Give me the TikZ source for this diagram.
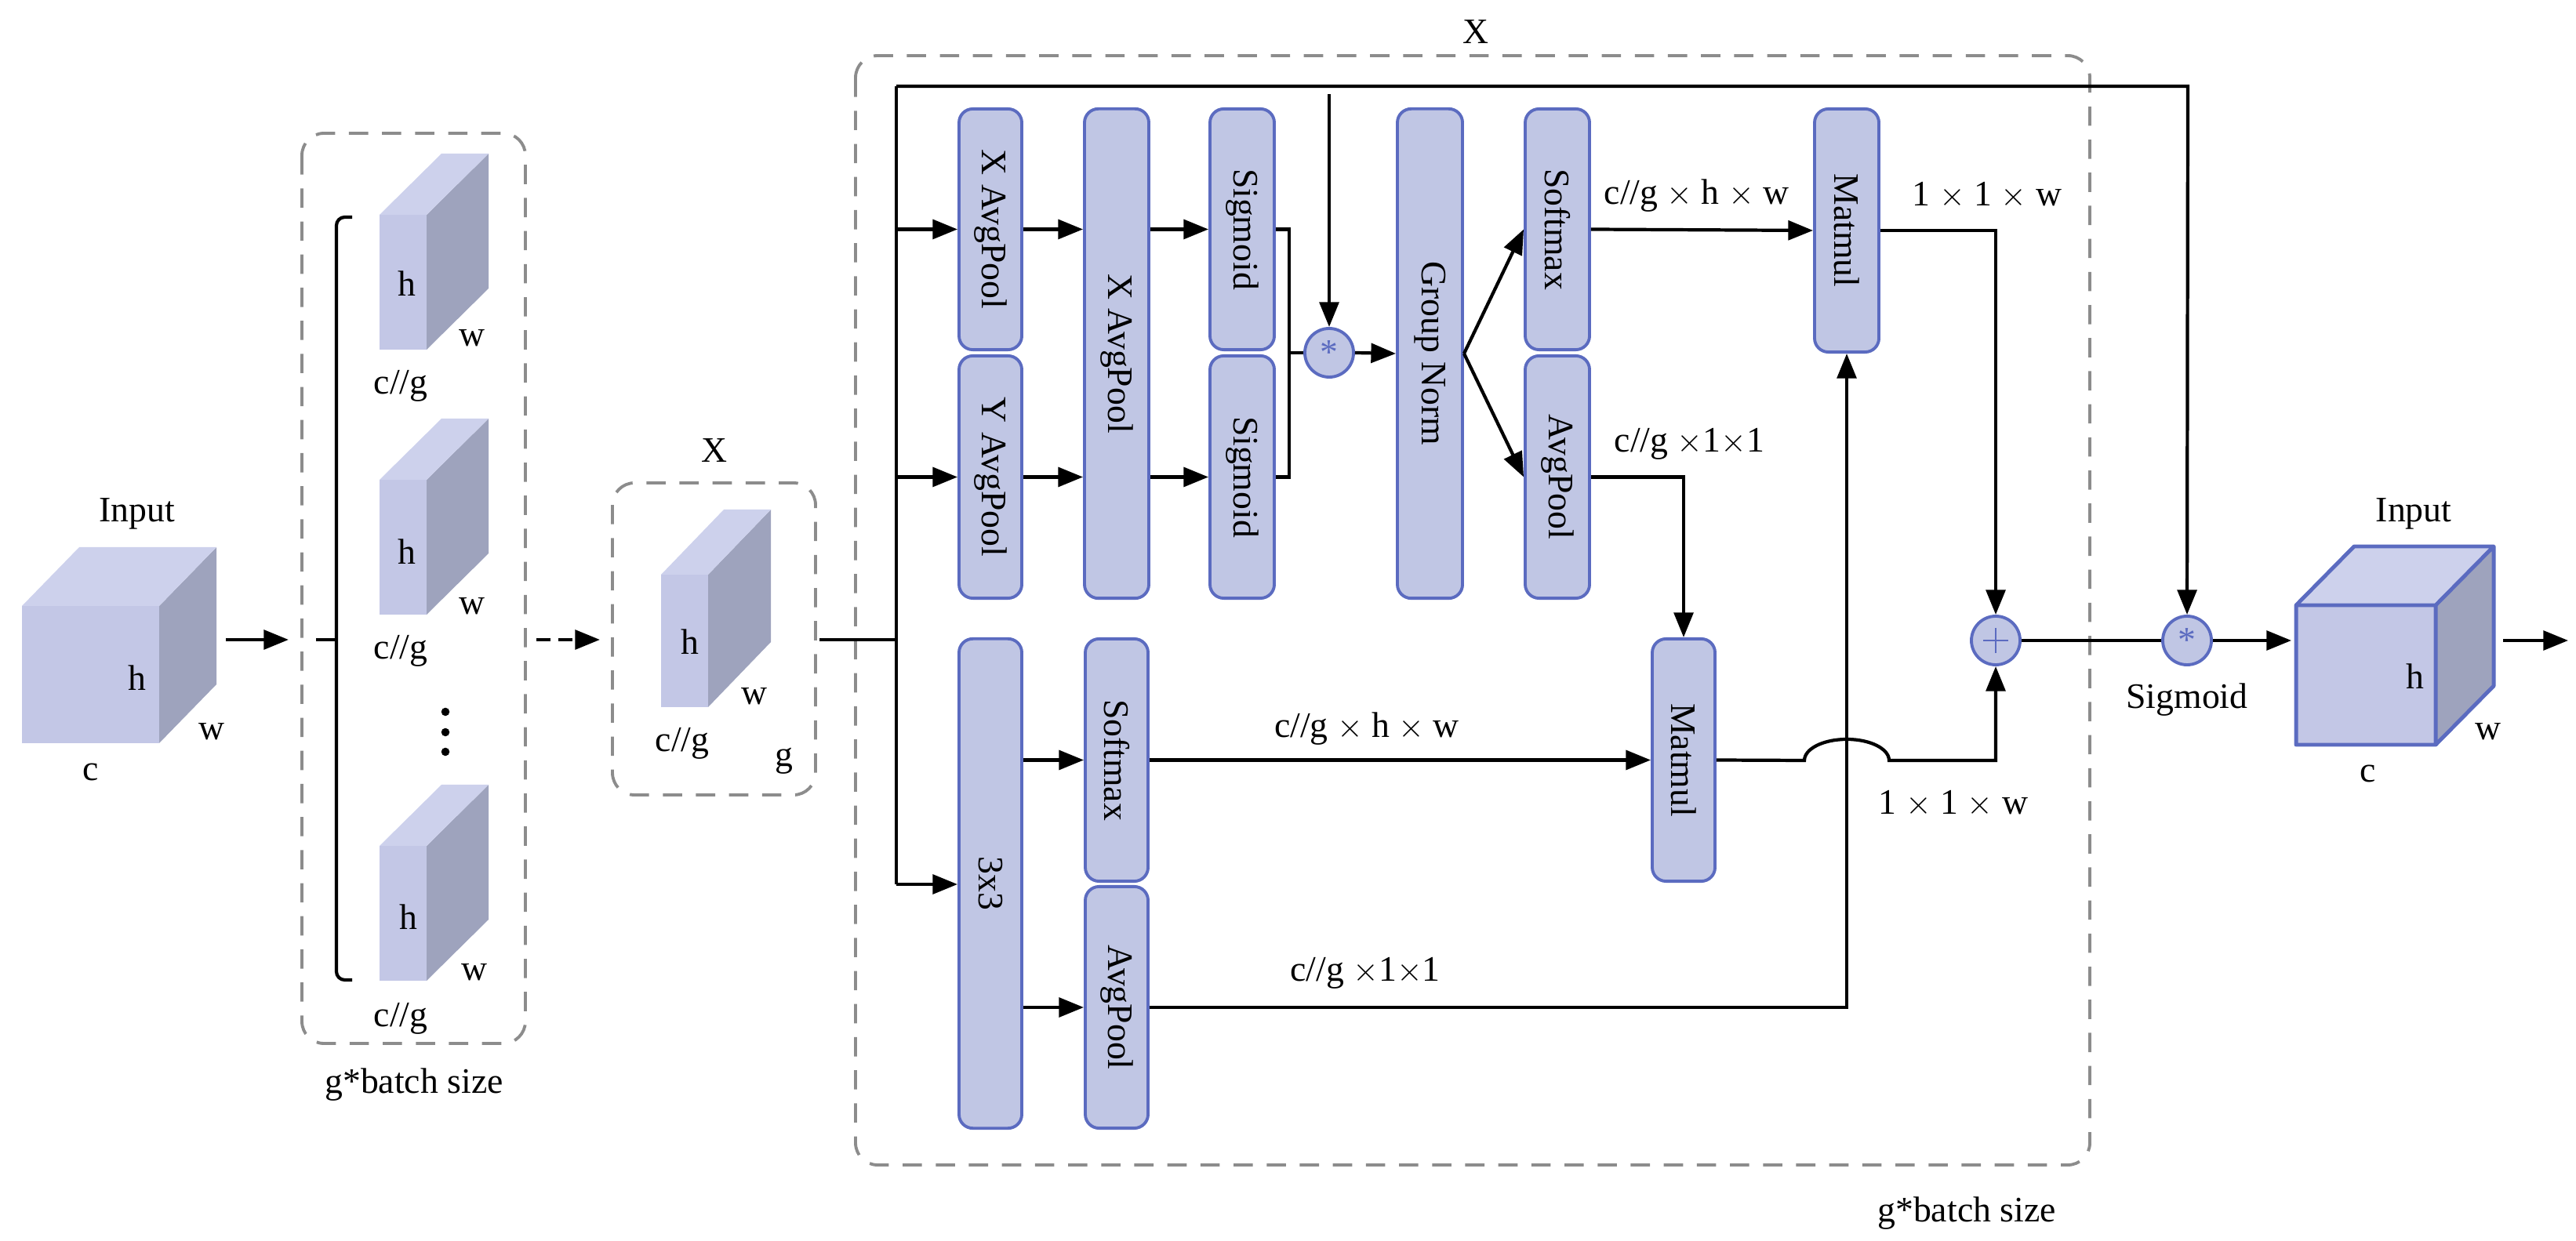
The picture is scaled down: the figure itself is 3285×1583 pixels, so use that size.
\documentclass[tikz,border=0pt]{standalone}
\usepackage{fontspec}
\setmainfont{Liberation Serif}
\usetikzlibrary{arrows.meta}
\definecolor{bfill}{HTML}{C0C6E4}
\definecolor{bdraw}{HTML}{5B6BC0}
\definecolor{cfront}{HTML}{C3C7E6}
\definecolor{ctop}{HTML}{CDD1EC}
\definecolor{cside}{HTML}{9EA3BD}
\definecolor{dgray}{HTML}{8C8C8C}
\begin{document}
\begin{tikzpicture}[x=0.01cm,y=-0.01cm,
  font=\fontsize{13}{15}\selectfont,
  blk/.style={draw=bdraw,fill=bfill,line width=1.1pt,rounded corners=5pt,inner sep=0pt},
  op/.style={circle,draw=bdraw,fill=bfill,line width=1.1pt,minimum size=0.62cm,inner sep=0pt},
  ln/.style={line width=1.2pt},
  ar/.style={line width=1.2pt,-{Triangle[length=9pt,width=7pt]}},
  dbox/.style={draw=dgray,line width=1.1pt,dash pattern=on 7pt off 5pt,rounded corners=8pt},
  txt/.style={inner sep=0pt}]
\useasboundingbox (0,0) rectangle (3285,1583);

\def\slab#1#2#3#4#5#6{%
  \fill[cside] (#1+#3,#2) -- (#1+#3+#5,#2+#6) -- (#1+#3+#5,#2+#4+#6) -- (#1+#3,#2+#4) -- cycle;
  \fill[ctop] (#1,#2) -- (#1+#5,#2+#6) -- (#1+#3+#5,#2+#6) -- (#1+#3,#2) -- cycle;
  \fill[cfront] (#1,#2) rectangle (#1+#3,#2+#4);}

% ---------- input cube ----------
\slab{28}{773}{175}{175}{73}{-75}
\node[txt] (inlab) at (175,655) {Input};
\node[txt] (inh) at (175,865) {h};
\node[txt] (inw) at (270,933) {w};
\node[txt] (inc) at (116,985) {c};
\coordinate (a1s) at (288,816);
\coordinate (a1e) at (368,816);
\draw[ar] (a1s) -- (a1e);

% ---------- group box ----------
\draw[dbox] (385,170) rectangle (670,1331);
\node[txt] (gb1) at (528,1384) {g*batch size};
\draw[ln,rounded corners=3pt] (449,277) -- (429,277) -- (429,1250) -- (449,1250);
\draw[ln] (429,816) -- (403,816);
\slab{484}{274}{60}{172}{79}{-78}
\node[txt] at (519,362) {h};
\node[txt] at (602,431) {w};
\node[txt] at (511,492) {c//g};
\slab{484}{612}{60}{172}{79}{-78}
\node[txt] at (519,704) {h};
\node[txt] at (602,773) {w};
\node[txt] at (511,830) {c//g};
\foreach \yy in {908,934,959} \fill (568,\yy) circle (1.5pt);
\slab{484}{1079}{60}{172}{79}{-78}
\node[txt] at (521,1170) {h};
\node[txt] at (605,1240) {w};
\node[txt] at (511,1299) {c//g};
\coordinate (a2s) at (684,816);
\coordinate (a2e) at (765,816);
\draw[ar,dash pattern=on 5pt off 3pt] (a2s) -- (a2e);

% ---------- X box ----------
\draw[dbox] (781,616) rectangle (1040,1014);
\node[txt] (xlab) at (911,575) {X};
\slab{843}{733}{60}{169}{80}{-83}
\node[txt] at (880,819) {h};
\node[txt] at (962,888) {w};
\node[txt] at (870,948) {c//g};
\node[txt] at (1000,971) {g};
\coordinate (xout) at (1045,816);

% ---------- big box ----------
\draw[dbox] (1091,71) rectangle (2665,1486);
\node[txt] (bigx) at (1882,41) {X};
\node[txt] (gb2) at (2508,1548) {g*batch size};

% ---------- blocks ----------
\node[blk,minimum width=0.8cm,minimum height=3.07cm] (xap1) at (1263,292.5) {\rotatebox{-90}{X AvgPool}};
\node[blk,minimum width=0.8cm,minimum height=3.09cm] (yap) at (1263,608.5) {\rotatebox{-90}{Y AvgPool}};
\node[blk,minimum width=0.82cm,minimum height=6.24cm] (xap2) at (1424,451) {\rotatebox{-90}{X AvgPool}};
\node[blk,minimum width=0.82cm,minimum height=3.07cm] (sig1) at (1584,292.5) {\rotatebox{-90}{Sigmoid}};
\node[blk,minimum width=0.82cm,minimum height=3.09cm] (sig2) at (1584,608.5) {\rotatebox{-90}{Sigmoid}};
\node[op] (mul1) at (1695,450) {\textcolor{bdraw}{*}};
\node[blk,minimum width=0.83cm,minimum height=6.24cm] (gn) at (1823.5,451) {\rotatebox{-90}{Group Norm}};
\node[blk,minimum width=0.82cm,minimum height=3.07cm] (smx) at (1986,292.5) {\rotatebox{-90}{Softmax}};
\node[blk,minimum width=0.82cm,minimum height=3.09cm] (ap2) at (1986,608.5) {\rotatebox{-90}{AvgPool}};
\node[blk,minimum width=0.82cm,minimum height=3.10cm] (mm1) at (2355,294) {\rotatebox{-90}{Matmul}};
\node[blk,minimum width=0.8cm,minimum height=6.24cm] (c33) at (1263,1127) {\rotatebox{-90}{3x3}};
\node[blk,minimum width=0.8cm,minimum height=3.09cm] (smx2) at (1424,969.5) {\rotatebox{-90}{Softmax}};
\node[blk,minimum width=0.8cm,minimum height=3.08cm] (ap3) at (1424,1285) {\rotatebox{-90}{AvgPool}};
\node[blk,minimum width=0.8cm,minimum height=3.09cm] (mm2) at (2147,969.5) {\rotatebox{-90}{Matmul}};
\node[op] (plus) at (2545,817) {};
\draw[bdraw,line width=0.6pt] ([xshift=-0.16cm]plus.center) -- ([xshift=0.16cm]plus.center)
  ([yshift=-0.16cm]plus.center) -- ([yshift=0.16cm]plus.center);
\node[op] (mul2) at (2789,817) {\textcolor{bdraw}{*}};
\node[txt] (siglab) at (2789,893) {Sigmoid};

% ---------- connectors ----------
\coordinate (tr) at (1143,816);
\coordinate (trtop) at (1143,110);
\coordinate (trbot) at (1143,1128);
\coordinate (tre) at (2790,110);
\draw[ln] (xout) -- (tr);
\draw[ln] (trtop) -- (trbot);
\draw[ar] (trtop) -- (tre) -- (mul2.north);
\draw[ar] (trtop |- xap1.west) -- (xap1.west);
\draw[ar] (trtop |- yap.west) -- (yap.west);
\draw[ar] (trbot) -- (trbot -| c33.west);
\draw[ar] (xap1.east) -- (xap1.east -| xap2.west);
\draw[ar] (yap.east) -- (yap.east -| xap2.west);
\draw[ar] (xap1.east -| xap2.east) -- (sig1.west);
\draw[ar] (yap.east -| xap2.east) -- (sig2.west);
\coordinate (jn) at (1644,450);
\draw[ln] (sig1.east) -| (jn);
\draw[ln] (sig2.east) -| (jn);
\draw[ln] (jn) -- (mul1.west);
\coordinate (mtop) at (1695,120);
\draw[ar] (mtop) -- (mul1.north);
\draw[ar] (mul1.east) -- (gn.west);
\draw[ar] (gn.east) -- (smx.west);
\draw[ar] (gn.east) -- (ap2.west);
\draw[ar] (smx.east) -- (mm1.west);
\node[txt,anchor=west] at (2045,250) {c//g $\times$ h $\times$ w};
\draw[ar] (ap2.east) -| (mm2.north);
\node[txt,anchor=west] at (2058,566) {c//g $\times$1$\times$1};
\draw[ar] (c33.east |- smx2.west) -- (smx2.west);
\draw[ar] (c33.east |- ap3.west) -- (ap3.west);
\draw[ar] (smx2.east) -- (mm2.west);
\node[txt] at (1743,930) {c//g $\times$ h $\times$ w};
\draw[ar] (ap3.east) -| (mm1.south);
\node[txt] at (1741,1241) {c//g $\times$1$\times$1};
\draw[ar] (mm1.east) -| (plus.north);
\node[txt] at (2534,249) {1 $\times$ 1 $\times$ w};
\coordinate (hop) at (2301,970);
\draw[ar] (mm2.east) -- (hop) arc[start angle=180,end angle=360,x radius=54,y radius=27] -| (plus.south);
\node[txt] at (2491,1025) {1 $\times$ 1 $\times$ w};
\draw[ln] (plus.east) -- (mul2.west);

% ---------- output cube ----------
\coordinate (c2in) at (2922,817);
\draw[ar] (mul2.east) -- (c2in);
\slab{2928}{772}{178}{178}{74}{-75}
\draw[bdraw,line width=1.4pt,line join=round] (2928,772) rectangle (3106,950)
  (2928,772) -- (3002,697) -- (3180,697) -- (3106,772) (3180,697) -- (3180,875) -- (3106,950);
\node[txt] at (3078,655) {Input};
\node[txt] at (3080,863) {h};
\node[txt] at (3173,933) {w};
\node[txt] at (3020,987) {c};
\coordinate (o1) at (3192,817);
\coordinate (o2) at (3275,817);
\draw[ar] (o1) -- (o2);
\end{tikzpicture}
\end{document}
